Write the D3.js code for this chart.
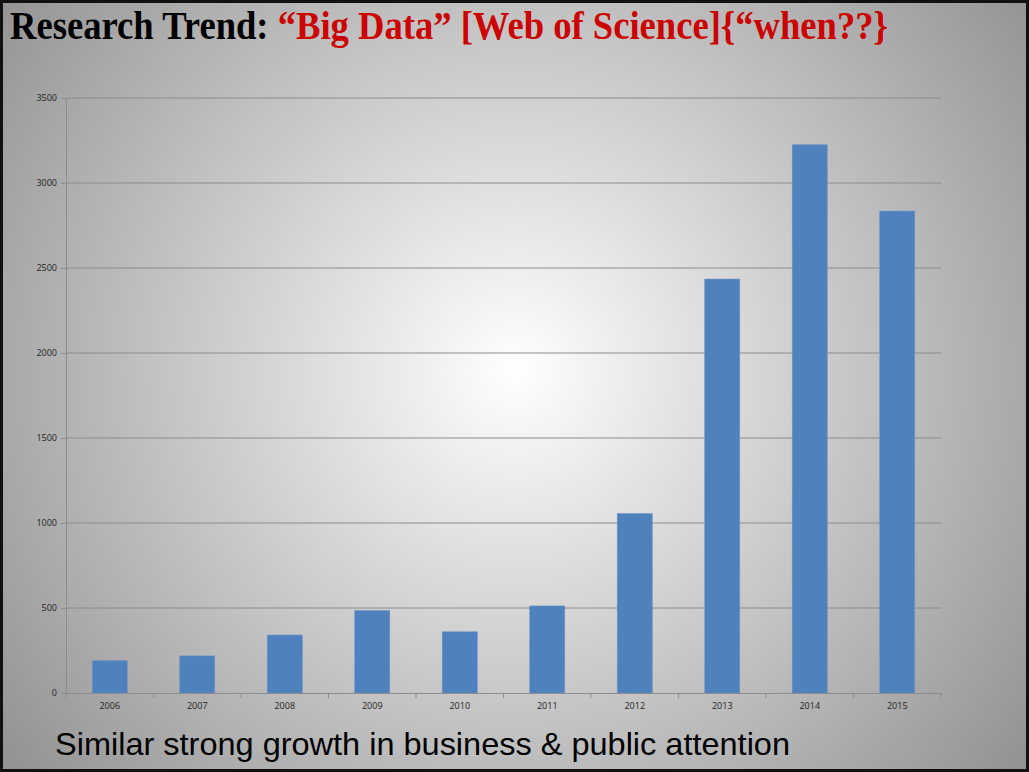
<!DOCTYPE html>
<html>
<head>
<meta charset="utf-8">
<script src="https://cdn.jsdelivr.net/npm/d3@7"></script>
<style>
  body { margin: 0; background: #fff; }
</style>
</head>
<body>
<script>
// values
var years = ["2006","2007","2008","2009","2010","2011","2012","2013","2014","2015"];
var counts = [190, 218, 341, 485, 360, 512, 1055, 2435, 3225, 2835];
var yTicks = [0, 500, 1000, 1500, 2000, 2500, 3000, 3500];

var w = 1029, h = 772;
var svg = d3.select("body").append("svg")
  .attr("width", w).attr("height", h);

var defs = svg.append("defs");
var grad = defs.append("radialGradient")
  .attr("id", "bg")
  .attr("gradientUnits", "userSpaceOnUse")
  .attr("cx", 515).attr("cy", 370).attr("r", 640);
grad.append("stop").attr("offset", "0%").attr("stop-color", "#ffffff");
grad.append("stop").attr("offset", "100%").attr("stop-color", "#939393");

svg.append("rect")
  .attr("x", 1.5).attr("y", 1.5)
  .attr("width", w - 3).attr("height", h - 3)
  .attr("fill", "url(#bg)")
  .attr("stroke", "#111").attr("stroke-width", 3);

// title
var title = svg.append("text")
  .attr("x", 10).attr("y", 39)
  .attr("font-family", "Liberation Serif, Times New Roman, serif")
  .attr("font-weight", "bold")
  .attr("font-size", 40)
  .attr("textLength", 878)
  .attr("lengthAdjust", "spacingAndGlyphs");
title.append("tspan").attr("fill", "#000").text("Research Trend: ");
title.append("tspan").attr("fill", "#cc0000").text("\u201CBig Data\u201D [Web of Science]{\u201Cwhen??}");

var plotL = 66, plotR = 941, plotT = 98, plotB = 693;

var x = d3.scaleBand().domain(years).range([plotL, plotR]).paddingInner(0.6).paddingOuter(0.3);
var y = d3.scaleLinear().domain([0, 3500]).range([plotB, plotT]);

// grid
svg.append("g").selectAll("line")
  .data(yTicks.slice(1))
  .enter().append("line")
  .attr("x1", plotL).attr("x2", plotR)
  .attr("y1", function(d){ return y(d); })
  .attr("y2", function(d){ return y(d); })
  .attr("stroke", "#8c8c8c").attr("stroke-width", 1);

// y axis
var yAxis = svg.append("g")
  .attr("transform", "translate(" + plotL + ",0)")
  .call(d3.axisLeft(y).tickValues(yTicks).tickSize(5).tickPadding(4).tickFormat(d3.format("d")));
yAxis.selectAll("text")
  .attr("font-family", "Open Sans, Liberation Sans, sans-serif")
  .attr("font-size", 9).attr("fill", "#222");
yAxis.selectAll("line").attr("stroke", "#8c8c8c");
yAxis.select(".domain").attr("stroke", "#8c8c8c");

// bars
svg.append("g").selectAll("rect")
  .data(counts)
  .enter().append("rect")
  .attr("x", function(d, i){ return x(years[i]); })
  .attr("width", x.bandwidth())
  .attr("y", function(d){ return y(d); })
  .attr("height", function(d){ return plotB - y(d); })
  .attr("fill", "#4f81bd")
  .attr("stroke", "#6b93c6").attr("stroke-width", 0.6);

// x axis with ticks at category boundaries
var xAxis = svg.append("g")
  .attr("transform", "translate(0," + plotB + ")")
  .call(d3.axisBottom(x).tickSize(0).tickPadding(10));
xAxis.selectAll("text")
  .attr("font-family", "Open Sans, Liberation Sans, sans-serif")
  .attr("font-size", 9).attr("fill", "#222");
xAxis.select(".domain").attr("stroke", "#8c8c8c");
var bounds = d3.range(years.length + 1).map(function(i){ return plotL + i * (plotR - plotL) / years.length; });
xAxis.selectAll(".bnd")
  .data(bounds)
  .enter().append("line")
  .attr("class", "bnd")
  .attr("x1", function(d){ return d; }).attr("x2", function(d){ return d; })
  .attr("y1", 0).attr("y2", 5)
  .attr("stroke", "#8c8c8c");

// footer text
svg.append("text")
  .attr("x", 55).attr("y", 755)
  .attr("font-family", "Liberation Sans, Arial, sans-serif")
  .attr("font-size", 32)
  .attr("textLength", 735)
  .attr("lengthAdjust", "spacingAndGlyphs")
  .attr("fill", "#000")
  .text("Similar strong growth in business & public attention");
</script>
</body>
</html>
